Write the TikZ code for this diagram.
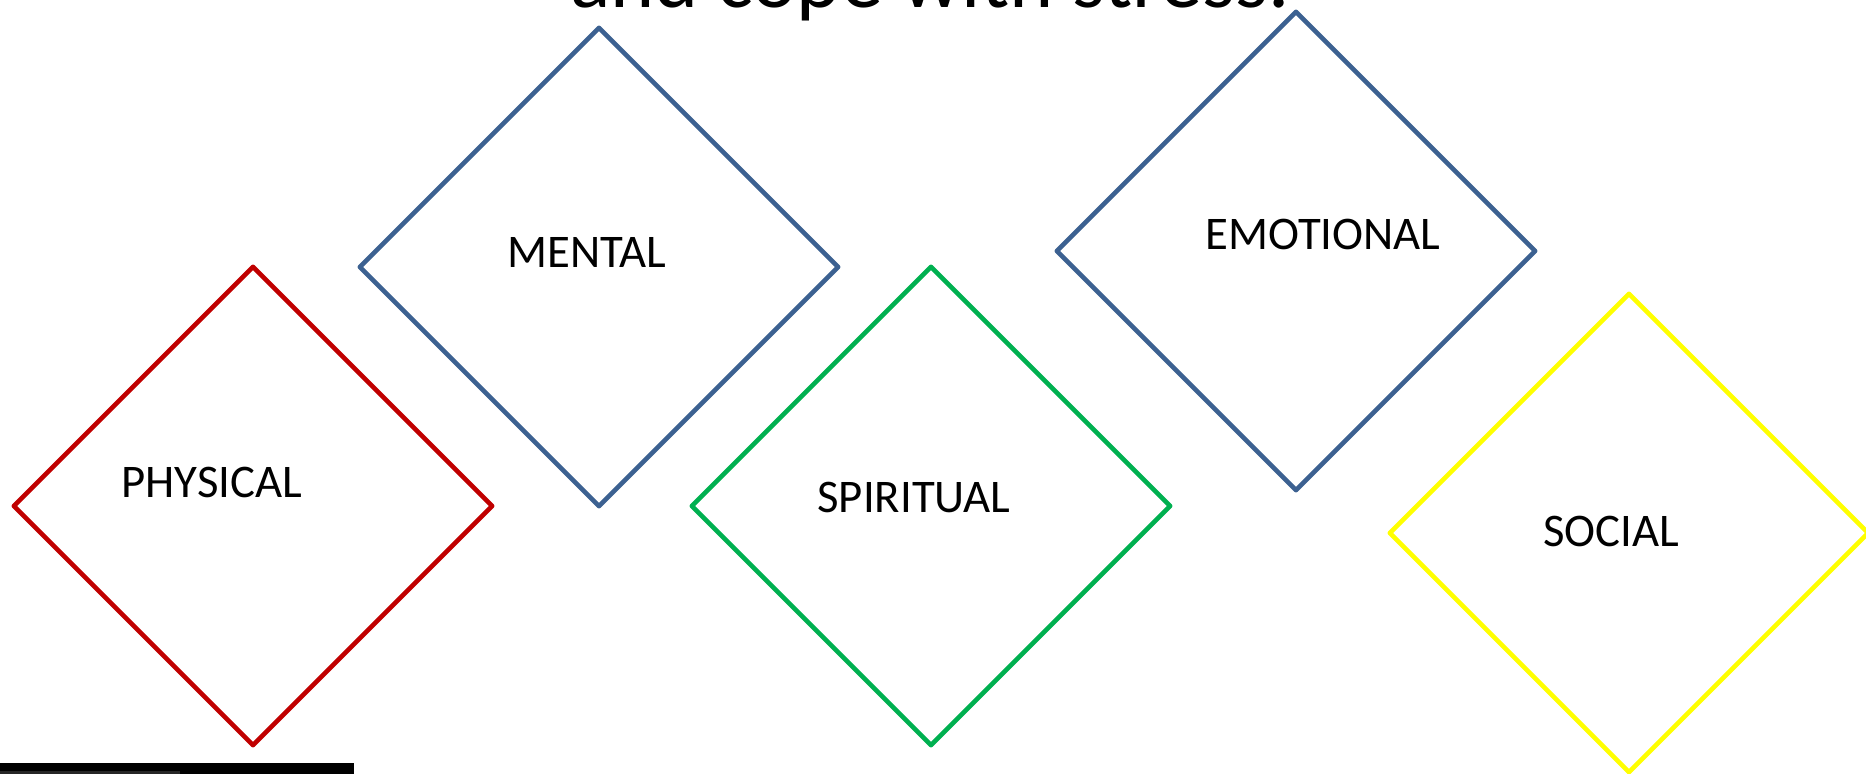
\documentclass[tikz,border=0pt]{standalone}
\usepackage{fontspec}
\setmainfont{Carlito}
\usetikzlibrary{shapes.geometric}
\definecolor{wbred}{HTML}{C00000}
\definecolor{wbblue}{HTML}{3C6191}
\definecolor{wbgreen}{HTML}{00B050}
\definecolor{wbyellow}{HTML}{FFFF00}
\newcommand{\labelfont}{\fontsize{13.3}{16}\selectfont}
\newcommand{\headfont}{\fontsize{23.9}{28}\selectfont}

\begin{document}
\begin{tikzpicture}[x=0.01cm, y=-0.01cm, every node/.style={font=\labelfont},
  facetnode/.style={diamond, draw=#1, line width=1.3pt, line join=round, minimum width=4.8cm, minimum height=4.8cm, inner sep=0pt},
  labelnode/.style={anchor=base, inner sep=0pt, font=\labelfont},
  headnode/.style={anchor=base, inner sep=0pt, font=\headfont},
]
\useasboundingbox (0,0) rectangle (1866,774);
% heading, cut off by the page edge
\node[headnode] (head) at (930,8) {and cope with stress.};
% the five facets
\node[facetnode=wbred] (physical) at (253,506) {};
\node[facetnode=wbblue] (mental) at (599,267) {};
\node[facetnode=wbgreen] (spiritual) at (931,506) {};
\node[facetnode=wbblue] (emotional) at (1296,251) {};
\node[facetnode=wbyellow] (social) at (1629,533) {};
\node[labelnode] (physicaltxt) at (212,498) {PHYSICAL};
\node[labelnode] (mentaltxt) at (587,268) {MENTAL};
\node[labelnode] (spiritualtxt) at (914,513) {SPIRITUAL};
\node[labelnode] (emotionaltxt) at (1323,250) {EMOTIONAL};
\node[labelnode] (socialtxt) at (1611,547) {SOCIAL};
% bar at the bottom edge
\fill[black] (0,763) rectangle (354,774);
\fill[black!85] (0,771) rectangle (180,774);
\end{tikzpicture}
\end{document}
